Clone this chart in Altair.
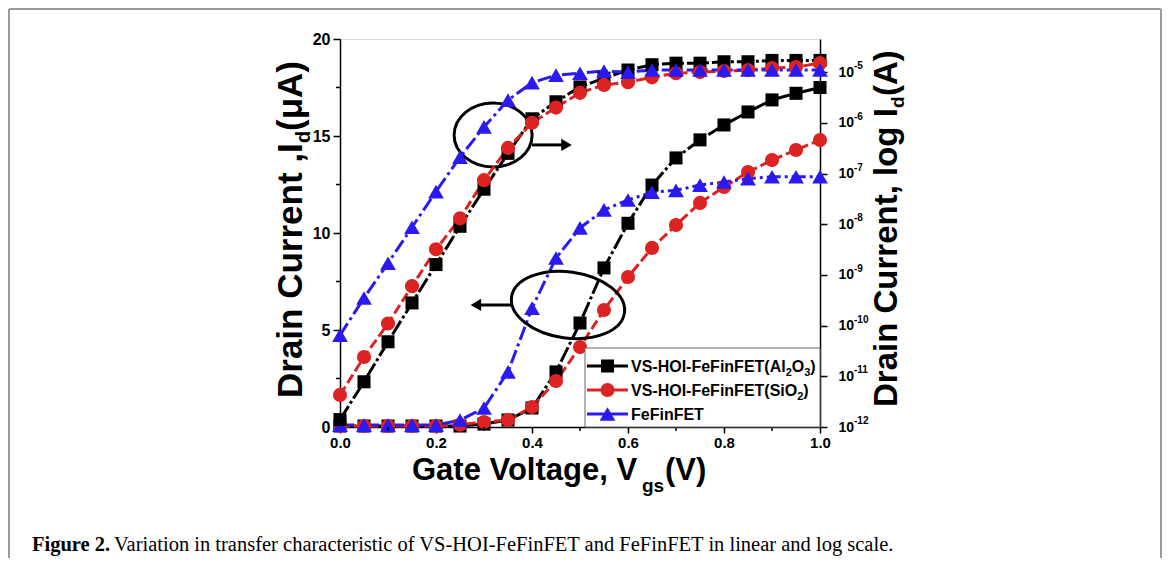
import altair as alt
import pandas as pd

# ---------------- data ----------------
vgs = [0.0, 0.05, 0.1, 0.15, 0.2, 0.25, 0.3, 0.35, 0.4, 0.45, 0.5,
       0.55, 0.6, 0.65, 0.7, 0.75, 0.8, 0.85, 0.9, 0.95, 1.0]
series_names = ["VS-HOI-FeFinFET(Al₂O₃)", "VS-HOI-FeFinFET(SiO₂)", "FeFinFET"]
# legend label pieces: (text, is_subscript)
legend_label_parts = [
    [("VS-HOI-FeFinFET(Al", False), ("2", True), ("O", False), ("3", True), (")", False)],
    [("VS-HOI-FeFinFET(SiO", False), ("2", True), (")", False)],
    [("FeFinFET", False)],
]
series_colors = ["#000000", "#dd2222", "#2a1af0"]
series_shapes = ["square", "circle", "triangle-up"]
series_sizes = [170, 200, 250]
series_dashes = [[16, 3, 3, 3], [10, 4], [14, 4, 3, 4]]

# linear drain current (uA) - left axis
lin_al2o3 = [0.05, 0.05, 0.05, 0.05, 0.05, 0.05, 0.15, 0.36, 0.98, 2.84, 5.36,
             8.2, 10.5, 12.47, 13.87, 14.8, 15.57, 16.24, 16.86, 17.2, 17.5]
lin_sio2 = [0.05, 0.05, 0.05, 0.05, 0.05, 0.12, 0.26, 0.36, 1.03, 2.37, 4.12,
            6.03, 7.73, 9.23, 10.41, 11.55, 12.37, 13.14, 13.76, 14.28, 14.79]
lin_fefin = [0.1, 0.1, 0.1, 0.1, 0.1, 0.35, 0.98, 2.84, 6.13, 8.71, 10.26,
             11.19, 11.7, 12.1, 12.2, 12.47, 12.63, 12.8, 12.9, 12.9, 12.9]

# log drain current (A) - right axis
log_al2o3 = [1.4e-12, 7.8e-12, 4.8e-11, 2.8e-10, 1.6e-9, 9.1e-9, 4.9e-8, 2.5e-7,
             1.2e-6, 2.6e-6, 5.1e-6, 7.6e-6, 1.1e-5, 1.4e-5, 1.5e-5, 1.5e-5,
             1.6e-5, 1.6e-5, 1.7e-5, 1.7e-5, 1.7e-5]
log_sio2 = [4.3e-12, 2.4e-11, 1.1e-10, 6.0e-10, 3.2e-9, 1.3e-8, 7.4e-8, 3.2e-7,
            1.0e-6, 2.0e-6, 3.9e-6, 5.6e-6, 6.3e-6, 7.9e-6, 9.5e-6, 1.0e-5,
            1.05e-5, 1.1e-5, 1.2e-5, 1.26e-5, 1.5e-5]
log_fefin = [6.5e-11, 3.5e-10, 1.7e-9, 8.7e-9, 4.4e-8, 2.1e-7, 8.3e-7, 2.8e-6,
             6.2e-6, 8.7e-6, 9.5e-6, 1.05e-5, 1.0e-5, 1.1e-5, 1.1e-5, 1.1e-5,
             1.1e-5, 1.1e-5, 1.1e-5, 1.1e-5, 1.1e-5]

x_ticks = [0.0, 0.2, 0.4, 0.6, 0.8, 1.0]
x_minor = [0.1, 0.3, 0.5, 0.7, 0.9]
ylin_ticks = [0, 5, 10, 15, 20]
ylin_minor = [2.5, 7.5, 12.5, 17.5]
ylog_ticks = [1e-12, 1e-11, 1e-10, 1e-9, 1e-8, 1e-7, 1e-6, 1e-5]
ylog_exps = ["-12", "-11", "-10", "-9", "-8", "-7", "-6", "-5"]

lin_all = [lin_al2o3, lin_sio2, lin_fefin]
log_all = [log_al2o3, log_sio2, log_fefin]
rows = []
for name, lv, gv in zip(series_names, lin_all, log_all):
    for x, a, b in zip(vgs, lv, gv):
        rows.append({"x": x, "series": name, "lin": a, "logI": b})
df = pd.DataFrame(rows)

FONT = "Liberation Sans"
W, H = 480, 388

# Arial/Liberation Sans Bold advance widths (em) used to place text pieces
BOLD_W = {"V": .667, "S": .667, "-": .333, "H": .722, "O": .778, "I": .278, "F": .611,
          "e": .556, "i": .278, "n": .611, "E": .667, "T": .611, "(": .333, "A": .722,
          "l": .278, ")": .333, "2": .556, "3": .556}


def text_width(s, size):
    return sum(BOLD_W.get(c, .6) for c in s) * size


# ---------------- scales / axes ----------------
x_scale = alt.Scale(domain=[0, 1], nice=False)
x_axis = alt.Axis(values=x_ticks, format=".1f", title=None, labelFont=FONT,
                  labelFontWeight="bold", labelFontSize=15, labelColor="black",
                  tickColor="black", domainColor="black", tickSize=6, tickWidth=1.5,
                  domainWidth=1.5, labelPadding=2, grid=False, labelFlush=False)
ylin_scale = alt.Scale(domain=[0, 20], nice=False, zero=True)
ylin_axis = alt.Axis(values=ylin_ticks, orient="left", title=None, labelFont=FONT,
                     labelFontWeight="bold", labelFontSize=16, labelColor="black",
                     tickColor="black", domainColor="black", tickSize=7, tickWidth=1.5,
                     domainWidth=1.5, labelPadding=3, grid=False, labelFlush=False)
ylog_scale = alt.Scale(type="log", domain=[1e-12, 4.5e-5], nice=False)
ylog_axis = alt.Axis(values=ylog_ticks, orient="right", title=None, labelFont=FONT,
                     labelFontWeight="bold", labelFontSize=14, labelColor="black",
                     tickColor="black", domainColor="black", tickSize=7, tickWidth=1.5,
                     domainWidth=1.5, labelPadding=11, grid=False, labelExpr="'10'",
                     labelFlush=False)


def X(field="x"):
    return alt.X(field, type="quantitative", scale=x_scale, axis=x_axis)


def YL(field="lin"):
    return alt.Y(field, type="quantitative", scale=ylin_scale, axis=ylin_axis)


def YG(field="logI"):
    return alt.Y(field, type="quantitative", scale=ylog_scale, axis=ylog_axis)


color_enc = alt.Color("series:N", scale=alt.Scale(domain=series_names, range=series_colors), legend=None)
dash_enc = alt.StrokeDash("series:N", scale=alt.Scale(domain=series_names, range=series_dashes), legend=None)

base = alt.Chart(df)

# linear group (left axis)
lin_lines = base.mark_line(strokeWidth=3).encode(x=X(), y=YL(), color=color_enc, strokeDash=dash_enc,
                                                  order="x:Q")
lin_pts = []
for name, col, shp, sz in zip(series_names, series_colors, series_shapes, series_sizes):
    lin_pts.append(base.transform_filter(alt.datum.series == name)
                   .mark_point(shape=shp, filled=True, size=sz, color=col, opacity=1)
                   .encode(x=X(), y=YL()))

# minor ticks
minor_y = alt.Chart(pd.DataFrame({"v": ylin_minor})).mark_rule(color="black", strokeWidth=1.5).encode(
    y=YL("v"), x=alt.value(-4), x2=alt.value(0))
minor_x = alt.Chart(pd.DataFrame({"v": x_minor})).mark_rule(color="black", strokeWidth=1.5).encode(
    x=X("v"), y=alt.value(H), y2=alt.value(H + 4))

# annotations (ellipses + arrows), in data coordinates of left axis
ell_up = alt.Chart(pd.DataFrame({"x": [0.319], "y": [15.05]})).mark_point(
    shape="M-1,0A1,0.82 0 1,0 1,0A1,0.82 0 1,0 -1,0Z", size=78 * 78, filled=False,
    stroke="black", strokeWidth=3, opacity=1).encode(x=X("x"), y=YL("y"))
ell_lo = alt.Chart(pd.DataFrame({"x": [0.475], "y": [6.29]})).mark_point(
    shape="M-1,0A1,0.58 0 1,0 1,0A1,0.58 0 1,0 -1,0Z", size=114 * 114, filled=False,
    stroke="black", strokeWidth=3, opacity=1, angle=8).encode(x=X("x"), y=YL("y"))
arr_up = alt.Chart(pd.DataFrame({"x": [0.40], "x2": [0.465], "y": [14.54]})).mark_rule(
    color="black", strokeWidth=3).encode(x=X("x"), x2="x2", y=YL("y"))
arr_up_h = alt.Chart(pd.DataFrame({"x": [0.472], "y": [14.54]})).mark_point(
    shape="triangle-right", filled=True, size=150, color="black", opacity=1).encode(x=X("x"), y=YL("y"))
arr_lo = alt.Chart(pd.DataFrame({"x": [0.358], "x2": [0.29], "y": [6.29]})).mark_rule(
    color="black", strokeWidth=3).encode(x=X("x"), x2="x2", y=YL("y"))
arr_lo_h = alt.Chart(pd.DataFrame({"x": [0.283], "y": [6.29]})).mark_point(
    shape="triangle-left", filled=True, size=150, color="black", opacity=1).encode(x=X("x"), y=YL("y"))


def blank():
    return alt.Chart(alt.Data(values=[{}]))


def txt(t, x, y, size, angle=0, weight="bold", font=FONT, align="left", color="black",
        baseline="alphabetic"):
    return blank().mark_text(
        text=t, fontSize=size, angle=angle, fontWeight=weight, font=font, align=align,
        baseline=baseline, color=color).encode(x=alt.value(x), y=alt.value(y))


# axis titles built from pieces (for subscripts)
titles = [
    txt("Gate Voltage, V", 72, 441, 31),
    txt("gs", 302, 453, 19),
    txt("(V)", 325, 441, 31),
    txt("Drain Current ,I", -38, 359, 35, angle=270),
    txt("d", -30, 104, 20, angle=270),
    txt("(μA)", -38, 92, 35, angle=270),
    txt("Drain Current, log I", 557, 368, 33, angle=270),
    txt("d", 564, 69, 19, angle=270),
    txt("(A)", 557, 57, 33, angle=270),
    txt("Figure 2.", -308, 512, 20.5, font="Liberation Serif"),
    txt("Variation in transfer characteristic of VS-HOI-FeFinFET and FeFinFET in linear and log scale.",
        -226, 512, 20.5, weight="normal", font="Liberation Serif"),
]

border_col = "#9a9a9a"
border = [
    blank().mark_rule(color=border_col, strokeWidth=2).encode(
        x=alt.value(-331), y=alt.value(-30), y2=alt.value(519)),
    blank().mark_rule(color=border_col, strokeWidth=2).encode(
        x=alt.value(-331), x2=alt.value(821), y=alt.value(-30)),
    blank().mark_rule(color=border_col, strokeWidth=2).encode(
        x=alt.value(821), y=alt.value(-30), y2=alt.value(519)),
]

# legend drawn by hand (box, line + marker, label with real subscripts)
legend_parts = [
    blank().mark_rect(fill="white", stroke="#666666", strokeWidth=1).encode(
        x=alt.value(245), x2=alt.value(W), y=alt.value(309), y2=alt.value(H)),
]
leg_rows_y = [327, 351, 375]
LF, SF = 16, 11
for parts, col, shp, sz, ly in zip(legend_label_parts, series_colors, series_shapes, series_sizes,
                                   leg_rows_y):
    legend_parts.append(blank().mark_rule(color=col, strokeWidth=3).encode(
        x=alt.value(247), x2=alt.value(288), y=alt.value(ly)))
    legend_parts.append(blank().mark_point(shape=shp, filled=True, size=sz, color=col, opacity=1).encode(
        x=alt.value(267.5), y=alt.value(ly)))
    cx = 291
    for piece, sub in parts:
        fs = SF if sub else LF
        legend_parts.append(txt(piece, cx, ly + 6 + (4 if sub else 0), fs))
        cx += text_width(piece, fs)

left = alt.layer(lin_lines, *lin_pts, minor_y, minor_x, ell_up, ell_lo, arr_up, arr_up_h,
                 arr_lo, arr_lo_h, *legend_parts, *titles, *border)

# log group (right axis)
log_lines = base.mark_line(strokeWidth=3).encode(x=X(), y=YG(), color=color_enc, strokeDash=dash_enc,
                                                  order="x:Q")
log_pts = []
for name, col, shp, sz in zip(series_names, series_colors, series_shapes, series_sizes):
    log_pts.append(base.transform_filter(alt.datum.series == name)
                   .mark_point(shape=shp, filled=True, size=sz, color=col, opacity=1)
                   .encode(x=X(), y=YG()))
exp_labels = alt.Chart(pd.DataFrame({"v": ylog_ticks, "e": ylog_exps})).mark_text(
    font=FONT, fontWeight="bold", fontSize=10, align="left", baseline="middle", color="black",
    dy=-6).encode(y=YG("v"), x=alt.value(W + 34), text="e:N")
right = alt.layer(log_lines, *log_pts, exp_labels)

chart = alt.layer(left, right).resolve_scale(y="independent").properties(
    width=W, height=H,
    autosize=alt.AutoSizeParams(type="none"),
    padding={"left": 332, "top": 31, "right": 342, "bottom": 131},
).configure_view(stroke="black", strokeWidth=1.5).configure(background="white")

chart.save("out.html", embed_options={"renderer": "svg", "actions": False})
